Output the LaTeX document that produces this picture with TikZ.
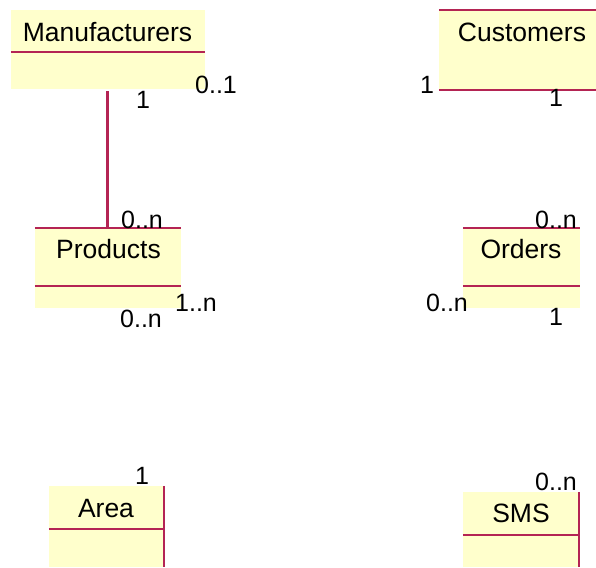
\documentclass[tikz,border=0pt]{standalone}
\usepackage{fontspec}
\setmainfont{Liberation Sans}
\definecolor{clsfill}{RGB}{255,255,204}
\definecolor{clsline}{RGB}{180,36,84}
\tikzset{
  cls/.style={fill=clsfill, draw=none, inner sep=0pt},
  title/.style={anchor=base, inner sep=0pt, font=\fontsize{26.5}{31}\selectfont},
  mult/.style={inner sep=0pt, font=\fontsize{25}{29}\selectfont},
  rim/.style={draw=clsline, line width=2.2pt}
}
\begin{document}
\begin{tikzpicture}[x=1pt, y=-1pt]
  \useasboundingbox (0,0) rectangle (596,567);
  %classes
  \node[cls, minimum width=194pt, minimum height=79pt] (man) at (108,49.5) {};
  \node[cls, minimum width=157pt, minimum height=80pt] (cus) at (517.5,50) {};
  \node[cls, minimum width=146pt, minimum height=80pt] (prod) at (108,268) {};
  \node[cls, minimum width=117pt, minimum height=80pt] (ord) at (521.5,268) {};
  \node[cls, minimum width=115pt, minimum height=81pt] (area) at (106.5,526.5) {};
  \node[cls, minimum width=116pt, minimum height=75pt] (sms) at (521,529.5) {};
  %titles
  \node[title] (manT) at (107.5,42) {Manufacturers};
  \node[title] (cusT) at (522,42) {Customers};
  \node[title] (prodT) at (108.5,258) {Products};
  \node[title] (ordT) at (521,258) {Orders};
  \node[title] (areaT) at (106,517) {Area};
  \node[title] (smsT) at (521,522) {SMS};
  %borders
  \draw[rim] ([yshift=-42pt]man.north west) -- ([yshift=-42pt]man.north east);
  \draw[rim] (cus.north west) -- (cus.north east);
  \draw[rim] (cus.south west) -- (cus.south east);
  \draw[rim] (prod.north west) -- (prod.north east);
  \draw[rim] ([yshift=-58pt]prod.north west) -- ([yshift=-58pt]prod.north east);
  \draw[rim] (ord.north west) -- (ord.north east);
  \draw[rim] ([yshift=-58pt]ord.north west) -- ([yshift=-58pt]ord.north east);
  \draw[rim] ([yshift=-43pt]area.north west) -- ([yshift=-43pt]area.north east);
  \draw[rim] (area.north east) -- (area.south east);
  \draw[rim] ([yshift=-43pt]sms.north west) -- ([yshift=-43pt]sms.north east);
  \draw[rim] (sms.north east) -- (sms.south east);
  %association
  \draw[rim] ([xshift=-0.5pt, yshift=-2pt]man.south) -- ([xshift=-0.5pt]prod.north);
  %multiplicities
  \node[mult] (m1) at (143,100) {1};
  \node[mult] (m2) at (216,85) {0..1};
  \node[mult] (m3) at (427,85) {1};
  \node[mult] (m4) at (556,98) {1};
  \node[mult] (m5) at (142,220) {0..n};
  \node[mult] (m6) at (196,303) {1..n};
  \node[mult] (m7) at (141,319) {0..n};
  \node[mult] (m8) at (556,220) {0..n};
  \node[mult] (m9) at (447,303) {0..n};
  \node[mult] (m10) at (556,317) {1};
  \node[mult] (m11) at (142,476) {1};
  \node[mult] (m12) at (556,482) {0..n};
\end{tikzpicture}
\end{document}
